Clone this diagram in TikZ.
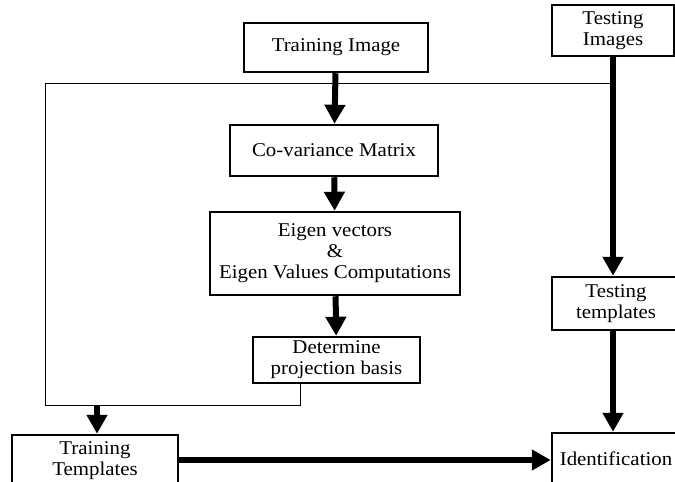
\documentclass[tikz,border=0pt]{standalone}
\usepackage{fontspec}
\setmainfont{Liberation Serif}[FakeStretch=1.07]
\usetikzlibrary{arrows.meta}

\begin{document}
\begin{tikzpicture}[x=1pt, y=-1pt,
    box/.style={draw, rectangle, line width=2.5pt, align=center, inner sep=0pt,
        font=\fontsize{19.5}{21}\selectfont},
    flow/.style={line width=6pt, -{Triangle[width=20pt, length=19pt]}},
    link/.style={line width=1pt}]
    \useasboundingbox (0,0) rectangle (675,482);

    \node[box, minimum width=184pt, minimum height=49pt] (trimg) at (336,47.5) {Training Image};
    \node[box, minimum width=122pt, minimum height=51pt] (tsimg) at (613,30.5) {Testing\\Images};
    \node[box, minimum width=208pt, minimum height=51pt] (covar) at (334,150.5) {Co-variance Matrix};
    \node[box, minimum width=250pt, minimum height=83pt] (eigen) at (335,253.5) {Eigen vectors\\\&\\Eigen Values Computations};
    \node[box, minimum width=167pt, minimum height=46pt] (basis) at (336.5,360) {Determine\\projection basis};
    \node[box, minimum width=128pt, minimum height=53pt] (tstmpl) at (616,303.5) {Testing\\templates};
    \node[box, minimum width=166pt, minimum height=52pt] (trtmpl) at (95,461) {Training\\Templates};
    \node[box, minimum width=128pt, minimum height=52pt] (ident) at (616,459) {Identification};

    \coordinate (jn) at (613,83);
    \coordinate (tap) at (97,405);

    \draw[flow] (trimg) -- (covar);
    \draw[flow] (covar) -- (eigen);
    \draw[flow] (eigen) -- (basis);
    \draw[flow] (tsimg.south -| jn) -- (tstmpl.north -| jn);
    \draw[flow] (tstmpl.south -| jn) -- (ident.north -| jn);
    \draw[link] (basis.south -| 300,0) -- (300,405) -- (45,405) -- (45,83) -- (jn);
    \draw[flow] (tap) -- (trtmpl.north -| tap);
    \draw[flow] (trtmpl.east |- 0,460) -- (ident.west |- 0,460);
\end{tikzpicture}
\end{document}
